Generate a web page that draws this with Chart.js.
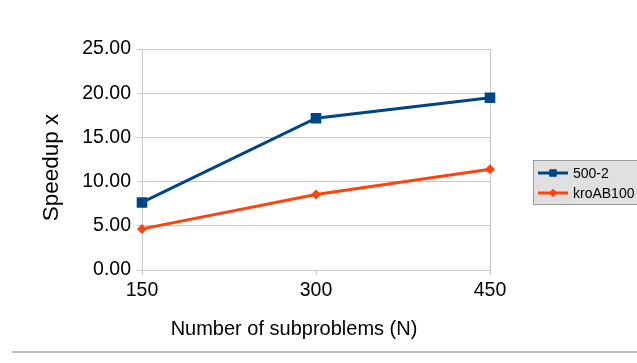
<!DOCTYPE html>
<html>
<head>
<meta charset="utf-8">
<script src="https://cdn.jsdelivr.net/npm/chart.js@4/dist/chart.umd.min.js"></script>
<style>
  body { margin: 0; background: #fff; }
  canvas { display: block; }
</style>
</head>
<body>
<canvas id="speedupChart" width="637" height="363"></canvas>
<script>
const categories = ['150', '300', '450'];
const series500 = [7.64, 17.17, 19.49];
const seriesKro = [4.65, 8.55, 11.39];
const seriesNames = ['500-2', 'kroAB100'];
const yTickValues = [0, 5, 10, 15, 20, 25];

const blue = '#004586';
const orange = '#ff420e';
const gridGray = '#c8c8c8';
const fontFamily = '"Liberation Sans", Arial, sans-serif';

// axis titles, legend box and the bottom rule
const extras = {
    id: 'extras',
    afterDraw(chart) {
        const ctx = chart.ctx;
        ctx.save();
        ctx.fillStyle = '#000';
        ctx.font = '20px ' + fontFamily;
        ctx.textAlign = 'center';
        ctx.textBaseline = 'alphabetic';
        ctx.fillText('Number of subproblems (N)', 294, 335);

        ctx.font = '22.5px ' + fontFamily;
        ctx.translate(58, 167.5);
        ctx.rotate(-Math.PI / 2);
        ctx.fillText('Speedup x', 0, 0);
        ctx.setTransform(1, 0, 0, 1, 0, 0);

        // legend
        ctx.fillStyle = '#e0e0e0';
        ctx.fillRect(533.5, 160.5, 110, 44);
        ctx.strokeStyle = '#999';
        ctx.lineWidth = 1;
        ctx.strokeRect(533.5, 160.5, 110, 44);

        const colors = [blue, orange];
        const styles = ['rect', 'rectRot'];
        const radii = [5, 4];
        seriesNames.forEach((name, i) => {
            const y = 173 + i * 20;
            ctx.strokeStyle = colors[i];
            ctx.lineWidth = 3;
            ctx.beginPath();
            ctx.moveTo(538, y);
            ctx.lineTo(568, y);
            ctx.stroke();
            ctx.fillStyle = colors[i];
            Chart.helpers.drawPoint(ctx, { pointStyle: styles[i], radius: radii[i], borderWidth: 0 }, 553, y);
            ctx.fill();
            ctx.fillStyle = '#000';
            ctx.font = '14px ' + fontFamily;
            ctx.textAlign = 'left';
            ctx.textBaseline = 'middle';
            ctx.fillText(name, 573, y + 1);
        });

        ctx.strokeStyle = '#c0c0c0';
        ctx.lineWidth = 2;
        ctx.beginPath();
        ctx.moveTo(12, 352);
        ctx.lineTo(637, 352);
        ctx.stroke();
        ctx.restore();
    }
};

new Chart(document.getElementById('speedupChart').getContext('2d'), {
    type: 'line',
    data: {
        labels: categories,
        datasets: [{
            label: seriesNames[0],
            data: series500,
            borderColor: blue,
            backgroundColor: blue,
            borderWidth: 3,
            pointStyle: 'rect',
            pointRadius: 7.5,
            pointBorderWidth: 0,
            tension: 0
        }, {
            label: seriesNames[1],
            data: seriesKro,
            borderColor: orange,
            backgroundColor: orange,
            borderWidth: 3,
            pointStyle: 'rectRot',
            pointRadius: 5,
            pointBorderWidth: 0,
            tension: 0
        }]
    },
    options: {
        responsive: false,
        animation: false,
        layout: { padding: { left: 0, right: 147, top: 49, bottom: 0 } },
        plugins: {
            legend: { display: false },
            tooltip: { enabled: false }
        },
        scales: {
            x: {
                type: 'category',
                offset: false,
                afterFit: s => { s.height = 93; },
                grid: {
                    color: c => c.index === 1 ? 'rgba(0,0,0,0)' : gridGray,
                    tickColor: gridGray,
                    tickLength: 5
                },
                border: { color: gridGray },
                ticks: { color: '#000', padding: 4, maxRotation: 0, font: { family: fontFamily, size: 19.5 } }
            },
            y: {
                min: 0,
                max: 25,
                afterFit: s => { s.width = 142; },
                afterBuildTicks: s => { s.ticks = yTickValues.map(v => ({ value: v })); },
                grid: { color: gridGray, tickColor: gridGray, tickLength: 5 },
                border: { color: gridGray },
                ticks: {
                    color: '#000',
                    padding: 6,
                    font: { family: fontFamily, size: 19.5 },
                    callback: v => v.toFixed(2)
                }
            }
        }
    },
    plugins: [extras]
});
</script>
</body>
</html>
